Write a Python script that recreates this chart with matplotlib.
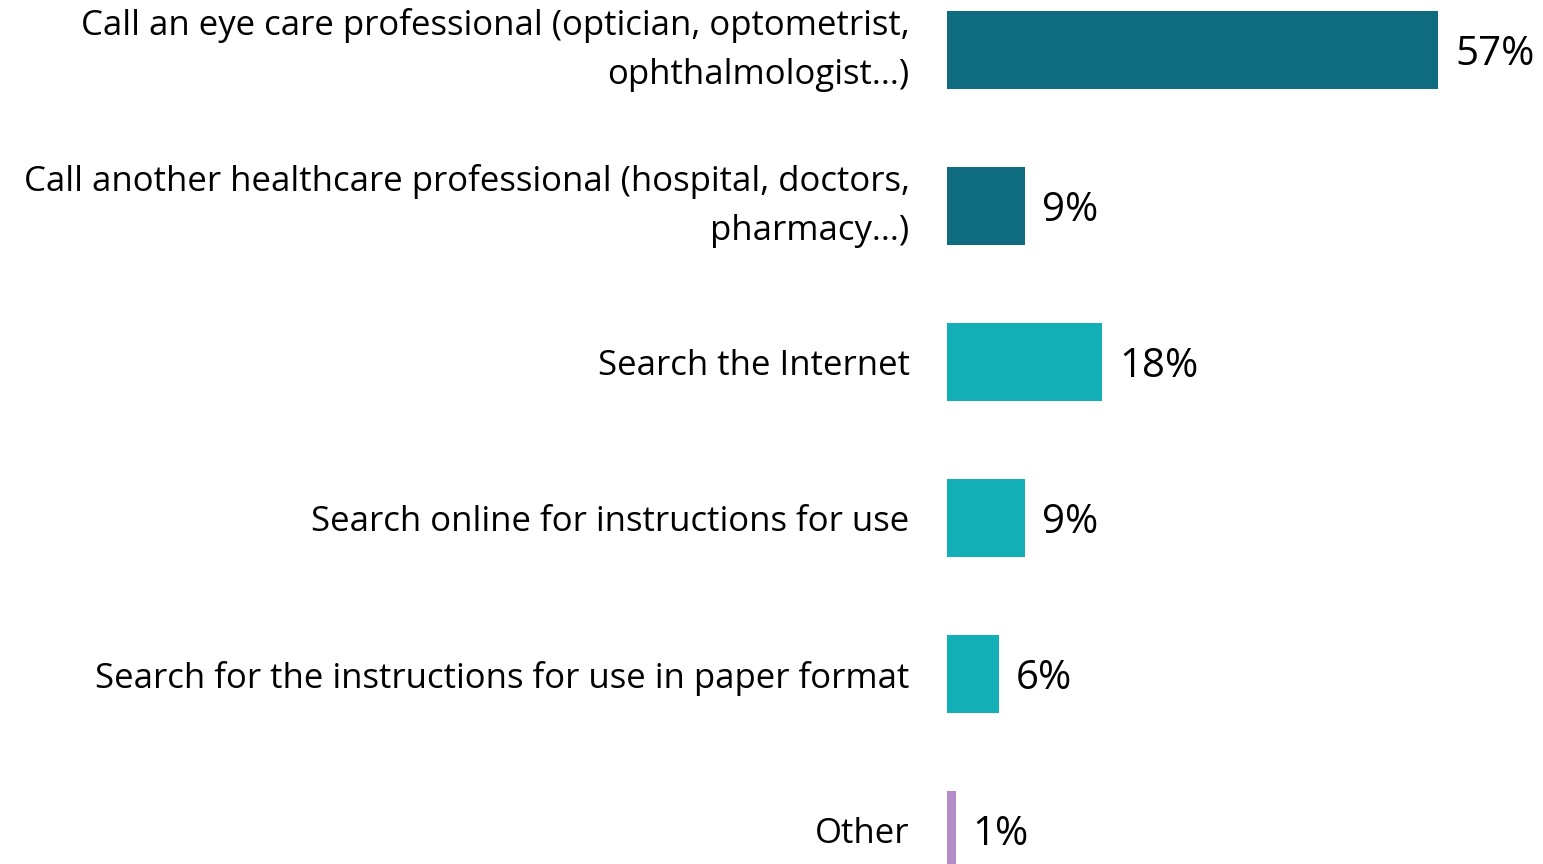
import matplotlib
matplotlib.use('Agg')
import matplotlib.pyplot as plt

plt.rcParams['font.family'] = ['Open Sans', 'DejaVu Sans']

# data
categories = [
    'Call an eye care professional (optician, optometrist,\nophthalmologist...)',
    'Call another healthcare professional (hospital, doctors,\npharmacy...)',
    'Search the Internet',
    'Search online for instructions for use',
    'Search for the instructions for use in paper format',
    'Other',
]
values = [57, 9, 18, 9, 6, 1]
labels = ['57%', '9%', '18%', '9%', '6%', '1%']

DARK_TEAL = '#0F6B80'
TEAL = '#13AFB7'
PURPLE = '#B48DC8'
colors = [DARK_TEAL, DARK_TEAL, TEAL, TEAL, TEAL, PURPLE]

W, H = 1543, 864
fig = plt.figure(figsize=(W / 100, H / 100), dpi=100)
# axes: left edge at bar origin (x=947 px), full height
ax = fig.add_axes([947 / W, 0, (W - 947) / W, 1])

pos = list(range(len(values)))
ax.barh(pos, values, height=0.5, color=colors)

px_per_unit = 491 / 57
ax.set_xlim(0, (W - 947) / px_per_unit)
ax.set_ylim((H - 50) / 156, -50 / 156)

for p, v, t in zip(pos, values, labels):
    ax.text(v + 17 / px_per_unit, p + 0.03, t, ha='left', va='center',
            fontsize=29, color='black')

ax.set_yticks(pos)
ax.set_yticklabels(categories, fontsize=25, ha='right', linespacing=1.6)
# two-line labels: center the block on the bar
for lbl in ax.get_yticklabels():
    if '\n' in lbl.get_text():
        lbl.set_va('center')
ax.tick_params(axis='y', length=0, pad=27)
ax.set_xticks([])
for s in ax.spines.values():
    s.set_visible(False)

fig.savefig('out.png', dpi=100, facecolor='white')
